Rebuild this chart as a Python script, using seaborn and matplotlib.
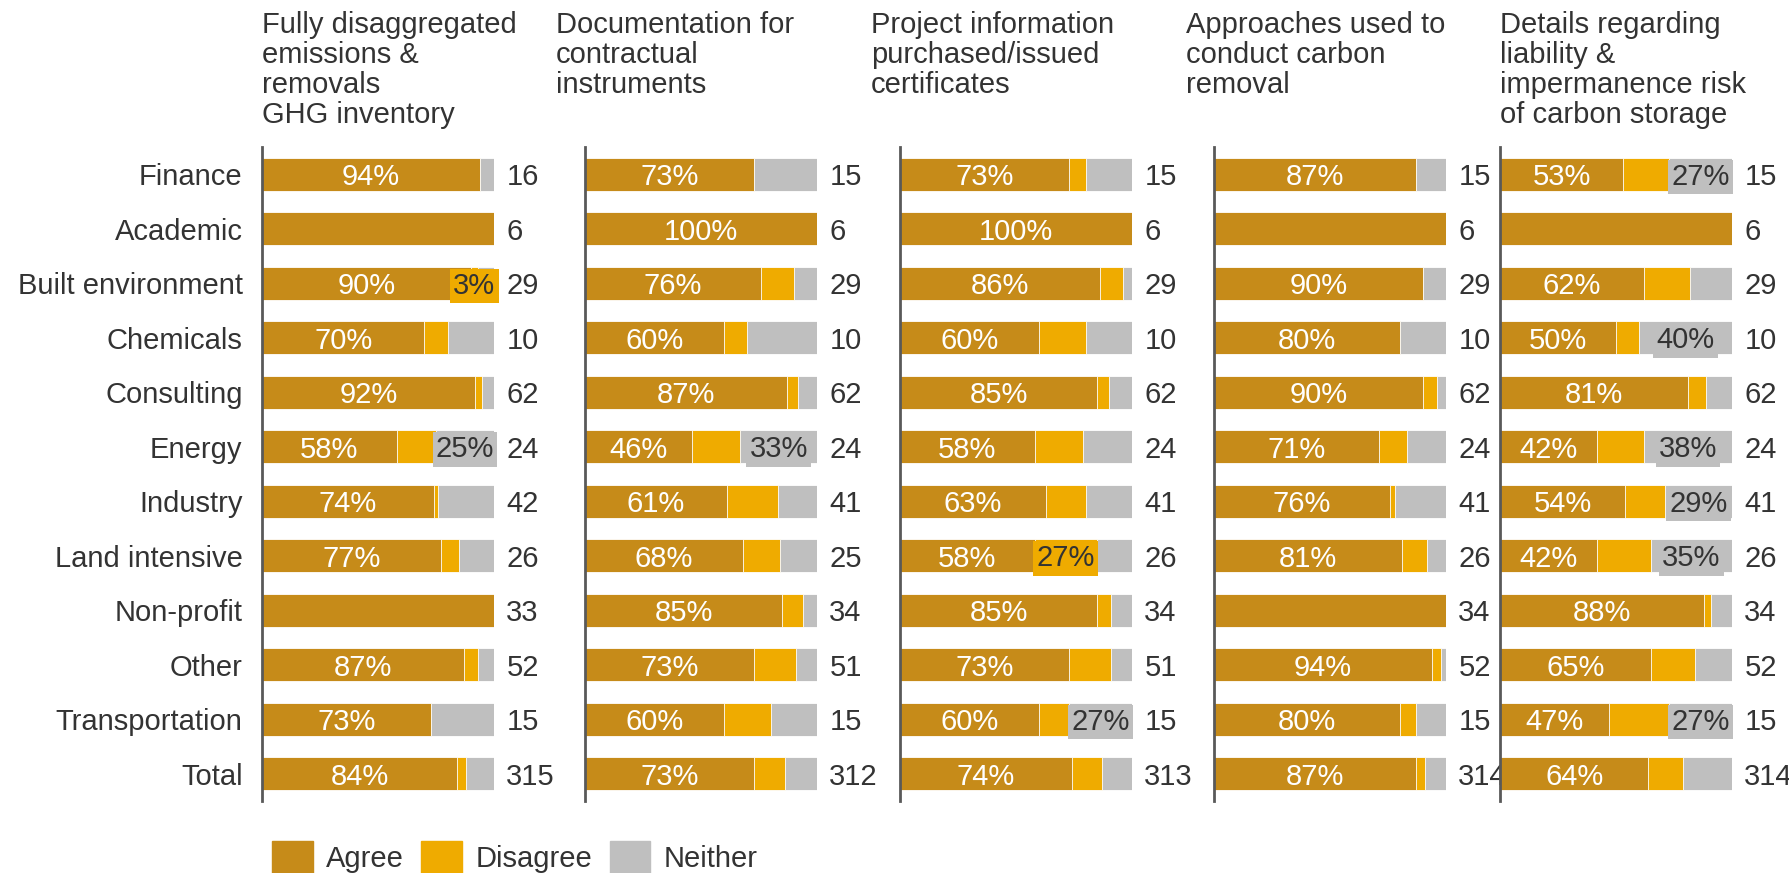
import seaborn as sns
import matplotlib.pyplot as plt
import pandas as pd
from matplotlib.patches import Patch

categories = ["Finance", "Academic", "Built environment", "Chemicals", "Consulting", "Energy",
              "Industry", "Land intensive", "Non-profit", "Other", "Transportation", "Total"]

titles = ["Fully disaggregated\nemissions &\nremovals\nGHG inventory",
          "Documentation for\ncontractual\ninstruments",
          "Project information\npurchased/issued\ncertificates",
          "Approaches used to\nconduct carbon\nremoval",
          "Details regarding\nliability &\nimpermanence risk\nof carbon storage"]

ghg_agree = [94, 100, 90, 70, 92, 58, 74, 77, 100, 87, 73, 84]
ghg_disagree = [0, 0, 3, 10, 3, 17, 2, 8, 0, 6, 0, 4]
ghg_neither = [6, 0, 7, 20, 5, 25, 24, 15, 0, 7, 27, 12]
ghg_n = [16, 6, 29, 10, 62, 24, 42, 26, 33, 52, 15, 315]

doc_agree = [73, 100, 76, 60, 87, 46, 61, 68, 85, 73, 60, 73]
doc_disagree = [0, 0, 14, 10, 5, 21, 22, 16, 9, 18, 20, 13]
doc_neither = [27, 0, 10, 30, 8, 33, 17, 16, 6, 9, 20, 14]
doc_n = [15, 6, 29, 10, 62, 24, 41, 25, 34, 51, 15, 312]

proj_agree = [73, 100, 86, 60, 85, 58, 63, 58, 85, 73, 60, 74]
proj_disagree = [7, 0, 10, 20, 5, 21, 17, 27, 6, 18, 13, 13]
proj_neither = [20, 0, 4, 20, 10, 21, 20, 15, 9, 9, 27, 13]
proj_n = [15, 6, 29, 10, 62, 24, 41, 26, 34, 51, 15, 313]

appr_agree = [87, 100, 90, 80, 90, 71, 76, 81, 100, 94, 80, 87]
appr_disagree = [0, 0, 0, 0, 6, 12, 2, 11, 0, 4, 7, 4]
appr_neither = [13, 0, 10, 20, 4, 17, 22, 8, 0, 2, 13, 9]
appr_n = [15, 6, 29, 10, 62, 24, 41, 26, 34, 52, 15, 314]

liab_agree = [53, 100, 62, 50, 81, 42, 54, 42, 88, 65, 47, 64]
liab_disagree = [20, 0, 20, 10, 8, 20, 17, 23, 3, 19, 26, 15]
liab_neither = [27, 0, 18, 40, 11, 38, 29, 35, 9, 16, 27, 21]
liab_n = [15, 6, 29, 10, 62, 24, 41, 26, 34, 52, 15, 314]

# rows where the agree share is not written on the bar
agree_hidden = [[1, 8], [], [], [1, 8], [1]]
# rows with a boxed label on the disagree / neither segment
disagree_labelled = [[2], [], [7], [], []]
neither_labelled = [[5], [5], [10], [], [0, 3, 5, 6, 7, 10]]

panels = [
    (ghg_agree, ghg_disagree, ghg_neither, ghg_n),
    (doc_agree, doc_disagree, doc_neither, doc_n),
    (proj_agree, proj_disagree, proj_neither, proj_n),
    (appr_agree, appr_disagree, appr_neither, appr_n),
    (liab_agree, liab_disagree, liab_neither, liab_n),
]

AGREE = "#C68B19"
DISAGREE = "#EFAB00"
NEITHER = "#BFBFBF"
TXT = "#333333"
FS = 21

sns.set_theme(style="white")
plt.rcParams['font.family'] = ['Liberation Sans', 'DejaVu Sans']

W, H = 1790, 873
fig = plt.figure(figsize=(W / 100, H / 100), dpi=100)

axes_left = [262, 585, 900, 1214, 1500]
title_left = [262, 556, 871, 1186, 1500]
ax_w = 232
ax_top, ax_bot = 147, 801

for k, (agree, disagree, neither, counts) in enumerate(panels):
    ax = fig.add_axes([axes_left[k] / W, 1 - ax_bot / H, ax_w / W, (ax_bot - ax_top) / H])
    df = pd.DataFrame({"cat": categories, "agree": agree, "disagree": disagree, "neither": neither})
    df["ad"] = df["agree"] + df["disagree"]
    df["all"] = df["ad"] + df["neither"]
    for col, c in [("all", NEITHER), ("ad", DISAGREE), ("agree", AGREE)]:
        sns.barplot(data=df, x=col, y="cat", orient="h", color=c, saturation=1,
                    width=0.61, errorbar=None, edgecolor="white", linewidth=0.6, ax=ax)

    ax.set_xlim(0, 100)
    ax.set_ylim(11.5, -0.5)
    ax.set_xticks([])
    ax.set_xlabel("")
    ax.set_ylabel("")
    for s in ["top", "right", "bottom"]:
        ax.spines[s].set_visible(False)
    ax.spines["left"].set_color("#595959")
    ax.spines["left"].set_linewidth(2)
    ax.tick_params(axis="y", length=0, pad=14, labelsize=FS, labelcolor=TXT)
    if k > 0:
        ax.set_yticklabels([])

    for i in range(len(categories)):
        a, d, nn = agree[i], disagree[i], neither[i]
        if i not in agree_hidden[k]:
            ax.text(a / 2, i, f"{a}%", ha="center", va="center_baseline", color="white", fontsize=FS)
        # boxed labels: nudge down a little so the box sits centred on the bar
        if i in disagree_labelled[k]:
            ax.text(a + d / 2, i + 0.05, f"{d}%", ha="center", va="center", color=TXT, fontsize=FS,
                    bbox=dict(boxstyle="square,pad=0.11", fc=DISAGREE, ec="none"), clip_on=False)
        if i in neither_labelled[k]:
            ax.text(a + d + nn / 2, i + 0.05, f"{nn}%", ha="center", va="center", color=TXT, fontsize=FS,
                    bbox=dict(boxstyle="square,pad=0.11", fc=NEITHER, ec="none"), clip_on=False)
        ax.text(105.3, i, str(counts[i]), ha="left", va="center_baseline", color=TXT, fontsize=FS,
                clip_on=False)

    fig.text(title_left[k] / W, 1 - 11 / H, titles[k], ha="left", va="top", color=TXT,
             fontsize=FS, linespacing=1.09)

handles = [Patch(color=AGREE, label="Agree"), Patch(color=DISAGREE, label="Disagree"),
           Patch(color=NEITHER, label="Neither")]
fig.legend(handles=handles, loc="upper left", bbox_to_anchor=(272 / W, 1 - 841 / H), ncol=3,
           frameon=False, fontsize=FS, handlelength=1.4, handleheight=1.3, handletextpad=0.45,
           columnspacing=0.6, borderaxespad=0, borderpad=0, labelcolor=TXT)

fig.savefig("out.png", dpi=100)
